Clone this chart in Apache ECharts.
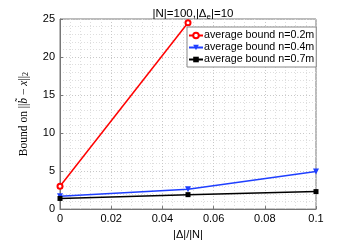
<!DOCTYPE html>
<html><head><meta charset="utf-8">
<script src="https://cdn.jsdelivr.net/npm/echarts@6/dist/echarts.min.js"></script>
<style>html,body{margin:0;padding:0;background:#fff}#c{width:349px;height:245px}</style>
</head><body><div id="c"></div>
<script>
const xRed = [0, 0.05];
const red = [3.0, 24.5];
const xBlue = [0, 0.05, 0.1];
const blue = [1.7, 2.6, 4.95];
const xBlack = [0, 0.05, 0.1];
const black = [1.4, 1.9, 2.3];
const names = ['average bound n=0.2m','average bound n=0.4m','average bound n=0.7m'];

const pair = (xs, ys) => xs.map((x,i)=>[x, ys[i]]);
const chart = echarts.init(document.getElementById('c'), null, {renderer:'canvas'});
const gridLine = {show:true, lineStyle:{color:'#c8c8c8', type:[1,2], width:1}};
chart.setOption({
  animation:false,
  title:{text:'|N|=100,|Δ{s|e}|=10', left:188, top:2, textAlign:'center',
    textStyle:{fontFamily:'Liberation Sans', fontSize:11.5, fontWeight:'normal', color:'#000',
      rich:{s:{fontSize:8, verticalAlign:'bottom', padding:[6,0,0,0], fontFamily:'Liberation Sans', color:'#000'}}}},
  grid:{left:60, right:33, top:19, bottom:29, show:true, borderColor:'#777', borderWidth:1},
  legend:{left:187, top:27, orient:'vertical', itemGap:1, itemWidth:14, itemHeight:7,
    backgroundColor:'#fff', borderColor:'#888', borderWidth:1, padding:[3,2,2,1],
    textStyle:{fontFamily:'Liberation Sans', fontSize:10.7, color:'#000', padding:[0,0,0,-4]},
    data:names},
  xAxis:{type:'value', min:0, max:0.1, interval:0.02,
    name:'|Δ|/|N|', nameLocation:'middle', nameGap:15,
    nameTextStyle:{fontFamily:'Liberation Sans', fontSize:11, color:'#000'},
    axisLine:{lineStyle:{color:'#777'}}, axisTick:{inside:true, length:3, lineStyle:{color:'#777'}},
    axisLabel:{color:'#000', fontFamily:'Liberation Sans', fontSize:11, margin:4,
      formatter:v=>v===0?'0':String(+v.toFixed(2))},
    splitLine:gridLine, minorTick:{show:false, splitNumber:5},
    minorSplitLine:{show:true, lineStyle:{color:'#dedede', type:[1,2], width:1}}},
  yAxis:{type:'value', min:0, max:25, interval:5,
    name:'Bound on ||{i|b̃} − {i|x}||{s|2}', nameLocation:'middle', nameGap:30,
    nameTextStyle:{fontFamily:'Liberation Serif', fontSize:11.5, color:'#000',
      rich:{i:{fontStyle:'italic', fontFamily:'Liberation Serif', fontSize:11.5, color:'#000'},
            s:{fontSize:8, fontFamily:'Liberation Serif', color:'#000', verticalAlign:'bottom', padding:[5,0,0,0]}}},
    axisLine:{show:true, lineStyle:{color:'#777'}}, axisTick:{show:true, inside:true, length:3, lineStyle:{color:'#777'}},
    axisLabel:{color:'#000', fontFamily:'Liberation Sans', fontSize:11, margin:5},
    splitLine:gridLine, minorTick:{show:false, splitNumber:5},
    minorSplitLine:{show:true, lineStyle:{color:'#dedede', type:[1,2], width:1}}},
  series:[
    {name:names[0], type:'line', data:pair(xRed, red), color:'#ff0000', symbol:'emptyCircle', symbolSize:5,
      lineStyle:{width:1.5}, itemStyle:{borderWidth:1.2}},
    {name:names[1], type:'line', data:pair(xBlue, blue), color:'#1f3fff', symbol:'triangle', symbolRotate:180, symbolSize:6,
      lineStyle:{width:1.5}},
    {name:names[2], type:'line', data:pair(xBlack, black), color:'#000000', symbol:'rect', symbolSize:5,
      lineStyle:{width:1.5}}
  ]
});
</script></body></html>
